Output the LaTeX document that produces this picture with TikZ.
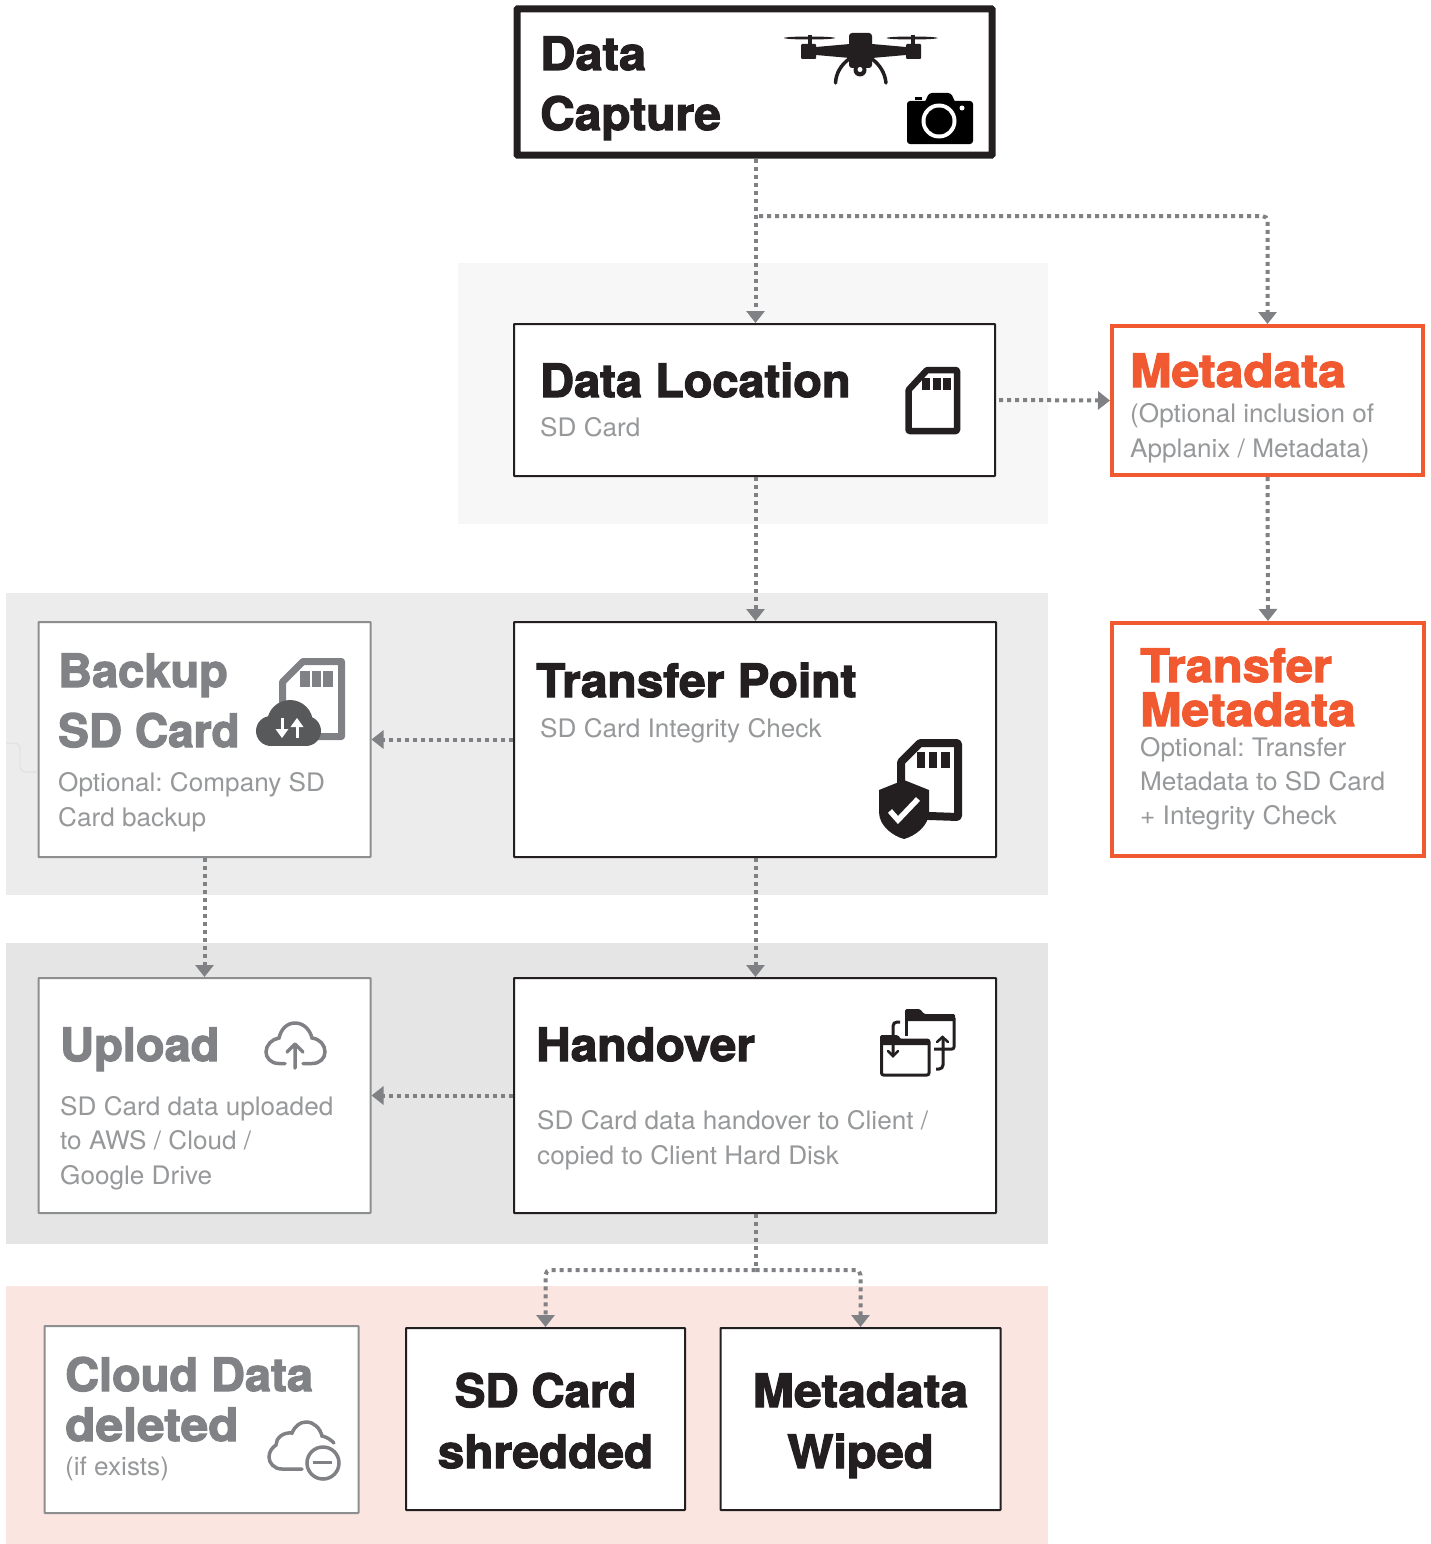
\documentclass[tikz,border=0pt]{standalone}
\usepackage{fontspec}
\setmainfont{TeX Gyre Heros}
\newfontfamily\hA[BoldFeatures={FakeBold=2.6}]{TeX Gyre Heros}
\newfontfamily\hB[FakeStretch=1.02,BoldFeatures={FakeBold=2.6}]{TeX Gyre Heros}
\newfontfamily\hC[FakeStretch=1.04,BoldFeatures={FakeBold=2.6}]{TeX Gyre Heros}
\newfontfamily\hD[FakeStretch=1.06,BoldFeatures={FakeBold=2.6}]{TeX Gyre Heros}
\newfontfamily\hE[FakeStretch=1.08,BoldFeatures={FakeBold=2.6}]{TeX Gyre Heros}
\newfontfamily\subf[FakeStretch=1.025]{TeX Gyre Heros}
\usetikzlibrary{arrows.meta}
\definecolor{ink}{HTML}{231F20}
\definecolor{graytxt}{HTML}{808285}
\definecolor{lighttxt}{HTML}{96989A}
\definecolor{orangeC}{HTML}{F15A31}
\definecolor{lineC}{HTML}{808184}
\definecolor{darkcloud}{HTML}{58595B}
\definecolor{panelA}{HTML}{F7F7F7}
\definecolor{panelB}{HTML}{ECECEC}
\definecolor{panelC}{HTML}{E5E5E5}
\definecolor{panelD}{HTML}{FBE5E0}
\tikzset{
  x=1pt,y=-1pt,
  flow/.style={draw=lineC,line width=4pt,dash pattern=on 4pt off 4pt,
    -{Triangle[length=12pt,width=18pt,fill=lineC]}},
  flowline/.style={draw=lineC,line width=4pt,dash pattern=on 4pt off 4pt},
  boxk/.style={draw=ink,fill=white,line width=2pt,inner sep=0pt,rounded corners=0.5pt},
  boxg/.style={draw=lineC!90,fill=white,line width=2pt,inner sep=0pt,rounded corners=0.5pt},
  boxo/.style={draw=orangeC,fill=white,line width=4pt,inner sep=0pt},
  head/.style={inner sep=0pt,anchor=base west,align=left,font=\hA\bfseries\fontsize{46}{60}\selectfont,text=ink},
  sub/.style={inner sep=0pt,anchor=base west,align=left,font=\subf\frenchspacing\fontsize{25.5}{35}\selectfont,text=lighttxt},
  iconk/.style={draw=ink,line width=3pt,line join=round,line cap=round},
}
\begin{document}
\begin{tikzpicture}
\useasboundingbox (0,0) rectangle (1431,1544);
\fill[white] (0,0) rectangle (1431,1544);
% panels
\fill[panelA] (458,263) rectangle (1048,524);
\fill[panelB] (6,593) rectangle (1048,895);
\fill[panelC] (6,943) rectangle (1048,1244);
\fill[panelD] (6,1286) rectangle (1048,1544);
% faint trace left of backup box
\draw[black!12,line width=1pt,rounded corners=6pt,-{Stealth[length=4pt]}] (6,743) -- (20,743) -- (20,772) -- (37,772);
% boxes
\node[boxk,line width=7pt,minimum width=475pt,minimum height=146pt] (capture) at (754.5,82) {};
\node[boxk,minimum width=481pt,minimum height=152pt] (dataloc) at (754.5,400) {};
\node[boxo,minimum width=311pt,minimum height=149pt] (meta) at (1267.5,400.5) {};
\node[boxk,minimum width=482pt,minimum height=235pt] (transfer) at (755,739.5) {};
\node[boxo,minimum width=312pt,minimum height=233pt] (tmeta) at (1268,739.5) {};
\node[boxg,minimum width=332pt,minimum height=235pt] (backup) at (204.5,739.5) {};
\node[boxk,minimum width=482pt,minimum height=235pt] (handover) at (755,1095.5) {};
\node[boxg,minimum width=332pt,minimum height=235pt] (upload) at (204.5,1095.5) {};
\node[boxg,minimum width=314pt,minimum height=187pt] (cloud) at (201.5,1419.5) {};
\node[boxk,minimum width=279pt,minimum height=182pt] (shred) at (545.5,1419) {};
\node[boxk,minimum width=280pt,minimum height=182pt] (wiped) at (860.5,1419) {};
% connectors
\coordinate (bC) at (759,216);
\coordinate (bH) at (755.5,1270);
\draw[flow] ([xshift=1pt]capture.south) -- ([xshift=1pt]dataloc.north);
\draw[flow,rounded corners=5pt] (bC) -- (bC -| meta.north) -- (meta.north);
\draw[flow] ([xshift=3pt]dataloc.east) -- (meta.west);
\draw[flow] ([xshift=1pt]dataloc.south) -- ([xshift=0.5pt]transfer.north);
\draw[flow] (meta.south) -- (tmeta.north);
\draw[flow] (transfer.west) -- (backup.east);
\draw[flow] (backup.south) -- (upload.north);
\draw[flow] ([xshift=0.5pt]transfer.south) -- ([xshift=0.5pt]handover.north);
\draw[flow] (handover.west) -- (upload.east);
\draw[flowline] ([xshift=0.5pt]handover.south) -- (bH);
\draw[flow,rounded corners=5pt] (bH) -- (bH -| shred.north) -- (shred.north);
\draw[flow,rounded corners=5pt] (bH) -- (bH -| wiped.north) -- (wiped.north);
% texts
\node[head] (tCapture) at (540,130) {{\hD Data}\\{\hC Capture}};
\node[head] (tLoc) at (540,397) {{\hB Data Location}};
\node[sub] (sLoc) at (540,436) {SD Card};
\node[head,text=orangeC] (tMeta) at (1130,387) {{\hE Metadata}};
\node[sub] (sMeta) at (1130,457) {(Optional inclusion of\\Applanix / Metadata)};
\node[head,text=orangeC,font=\hA\bfseries\fontsize{46}{44}\selectfont] (tTM) at (1140,726) {{\hD Transfer}\\{\hE Metadata}};
\node[sub,font=\subf\frenchspacing\fontsize{25.5}{34}\selectfont] (sTM) at (1140,824) {Optional: Transfer\\Metadata to SD Card\\+ Integrity Check};
\node[head] (tTP) at (536,697) {{\hC Transfer Point}};
\node[sub] (sTP) at (540,737) {SD Card Integrity Check};
\node[head,text=graytxt] (tBk) at (58,747) {{\hB Backup}\\{\hA SD Card}};
\node[sub] (sBk) at (58,826) {Optional: Company SD\\Card backup};
\node[head,text=graytxt] (tUp) at (60,1061) {{\hB Upload}};
\node[sub,font=\subf\frenchspacing\fontsize{25.5}{34.5}\selectfont] (sUp) at (60,1184) {SD Card data uploaded\\to AWS / Cloud /\\Google Drive};
\node[head] (tHd) at (536,1061) {{\hC Handover}};
\node[sub] (sHd) at (537,1164) {SD Card data handover to Client /\\copied to Client Hard Disk};
\node[head,text=graytxt,font=\hA\bfseries\fontsize{46}{50}\selectfont] (tCl) at (65,1441) {{\hB Cloud Data}\\{\hE deleted}};
\node[sub] (sCl) at (65,1475) {(if exists)};
\node[head,align=center,anchor=base,font=\hA\bfseries\fontsize{46}{61}\selectfont] (tSh) at (545.5,1468) {{\hA SD Card}\\{\hC shredded}};
\node[head,align=center,anchor=base,font=\hA\bfseries\fontsize{46}{61}\selectfont] (tWp) at (860.5,1468) {{\hE Metadata}\\{\hD Wiped}};
% drone
\fill[ink] (809.5,38) ellipse (25.5 and 1.5);
\fill[ink] (912,38) ellipse (25.5 and 1.5);
\fill[ink] (808,35) rectangle (812,46);
\fill[ink] (911,35) rectangle (915,46);
\fill[ink,rounded corners=1pt] (801,44) rectangle (816,59);
\fill[ink,rounded corners=1pt] (906,44) rectangle (921,59);
\fill[ink] (816,47) -- (850,44) -- (872,44) -- (906,47) -- (906,55) -- (872,58) -- (850,58) -- (816,55) -- cycle;
\fill[ink,rounded corners=3pt] (849,33) rectangle (872,68);
\fill[ink] (860,70) circle (6.5);
\fill[white] (860,69.5) circle (2.5);
\draw[ink,line width=3.5pt,line cap=round] (835.5,83) .. controls (836,73) and (841,65) .. (849,59);
\draw[ink,line width=3.5pt,line cap=round] (886,83) .. controls (885,73) and (880,65) .. (872,59);
% camera
\fill[black,rounded corners=3pt] (907,101) rectangle (973,144);
\fill[black,rounded corners=3pt] (924,104) -- (929,93) -- (951,93) -- (956,104) -- cycle;
\fill[black] (915,97) rectangle (922,100);
\fill[white] (939,121) circle (17.5);
\fill[black] (939,121) circle (13.5);
\fill[white] (962,108) circle (2.5);
% SD card in Data Location
\draw[ink,line width=6.5pt,line join=round,rounded corners=1pt] (908.5,431) -- (908.5,390) -- (927,370) -- (957,370) -- (957,431) -- cycle;
\fill[ink] (922,378) rectangle (930,390);
\fill[ink] (933,378) rectangle (941,390);
\fill[ink] (943,378) rectangle (951,390);
% Backup SD + cloud
\draw[lineC,line width=7pt,line join=round] (282.5,725) -- (282.5,682) -- (303,661.5) -- (341.5,661.5) -- (341.5,736.5) -- (300,736.5);
\fill[lineC] (300,671) rectangle (310,687);
\fill[lineC] (312,671) rectangle (321,687);
\fill[lineC] (323,671) rectangle (333,687);
\fill[darkcloud] (271,731) circle (15);
\fill[darkcloud] (290,723) circle (23);
\fill[darkcloud] (306,731) circle (15);
\fill[darkcloud] (271,735) rectangle (306,746);
\fill[white] (280.5,718) rectangle (283.5,731);
\fill[white] (275.5,729) -- (288.5,729) -- (282,738) -- cycle;
\fill[white] (295.5,725) rectangle (298.5,738);
\fill[white] (290.5,727) -- (303.5,727) -- (297,718) -- cycle;
% Transfer SD + shield
\draw[ink,line width=8pt,line join=round,rounded corners=1pt] (901,815) -- (901,762) -- (920,743) -- (958,743) -- (958,817) -- cycle;
\fill[ink] (917,752) rectangle (925,768);
\fill[ink] (929,752) rectangle (937,768);
\fill[ink] (941,752) rectangle (950,768);
\fill[ink] (904,780) -- (929,790) -- (929,812) .. controls (929,826) and (915,836) .. (904,839) .. controls (893,836) and (879,826) .. (879,812) -- (879,790) -- cycle;
\draw[white,line width=5.5pt] (890,811) -- (898,820) -- (918,799);
% Handover folders
\draw[iconk,rounded corners=2pt] (881.5,1040) rectangle (929,1075);
\fill[ink,rounded corners=1.5pt] (880,1045) -- (880,1035) -- (898,1035) -- (901,1039.5) -- (930,1039.5) -- (930,1045) -- cycle;
\draw[ink,line width=3pt,rounded corners=2pt] (906.5,1036) -- (906.5,1012);
\fill[ink,rounded corners=1.5pt] (905,1021) -- (905,1009) -- (920,1009) -- (924,1014) -- (955,1014) -- (955,1021) -- cycle;
\draw[iconk,rounded corners=2pt,line cap=butt] (954,1018) -- (954,1049) -- (934,1049);
\draw[ink,line width=3pt,rounded corners=4pt] (900,1022) -- (893,1022) -- (893,1055);
\draw[ink,line width=2.5pt,line cap=round] (888,1051) -- (893,1056) -- (898,1051);
\draw[ink,line width=3pt,rounded corners=4pt] (936,1069) -- (943,1069) -- (943,1038);
\draw[ink,line width=2.5pt,line cap=round] (937,1042) -- (942.5,1037) -- (948,1042);
% Upload cloud
\draw[lineC,line width=3.5pt,line cap=round] (285,1063.5) -- (279,1063.5) .. controls (270,1063.5) and (266,1057) .. (266,1052) .. controls (266,1045) and (272,1039) .. (279,1038) .. controls (281,1029) and (287,1023) .. (295,1023) .. controls (304,1023) and (310,1030) .. (312,1038) .. controls (320,1039) and (325,1045) .. (325,1052) .. controls (325,1058) and (320,1063.5) .. (312,1063.5) -- (303,1063.5);
\draw[lineC,line width=3.5pt,line cap=round,line join=round] (295,1068) -- (295,1044) (287,1052) -- (295,1044) -- (303,1052);
% Cloud minus
\draw[lineC,line width=3.5pt,line cap=round] (302,1469) -- (282,1469) .. controls (274,1469) and (269,1463) .. (269,1457) .. controls (269,1451) and (273,1447) .. (276,1445) .. controls (276,1438) and (283,1432) .. (292,1433) .. controls (295,1426) and (300,1422) .. (306,1422) .. controls (314,1422) and (320,1428) .. (322,1436) .. controls (327,1437) and (331,1440) .. (334,1443);
\draw[lineC,line width=3.5pt] (323,1463) circle (16);
\draw[lineC,line width=3pt] (313,1462.5) -- (332,1462.5);
\end{tikzpicture}
\end{document}
